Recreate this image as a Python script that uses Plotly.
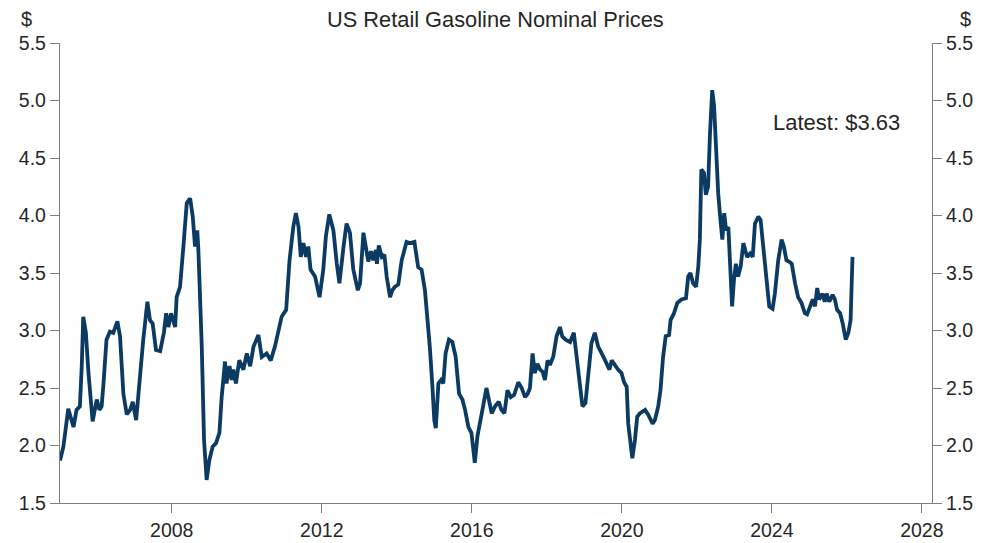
import plotly.graph_objects as go

# Fractional year of each observation and the retail gasoline price ($/gal)
years = [
    2005.02, 2005.11, 2005.24, 2005.38, 2005.46, 2005.55, 2005.60, 2005.64, 2005.71, 2005.78,
    2005.89, 2006.00, 2006.07, 2006.13, 2006.18, 2006.26, 2006.35, 2006.44, 2006.55, 2006.62,
    2006.71, 2006.80, 2006.89, 2006.96, 2007.05, 2007.14, 2007.24, 2007.35, 2007.42, 2007.49,
    2007.58, 2007.69, 2007.79, 2007.85, 2007.91, 2007.98, 2008.09, 2008.13, 2008.22, 2008.31,
    2008.40, 2008.49, 2008.56, 2008.62, 2008.68, 2008.71, 2008.80, 2008.86, 2008.93, 2009.00,
    2009.09, 2009.18, 2009.27, 2009.33, 2009.42, 2009.46, 2009.54, 2009.60, 2009.64, 2009.71,
    2009.80, 2009.91, 2010.00, 2010.09, 2010.18, 2010.31, 2010.40, 2010.53, 2010.64, 2010.75,
    2010.84, 2010.93, 2011.05, 2011.14, 2011.24, 2011.31, 2011.38, 2011.44, 2011.51, 2011.58,
    2011.64, 2011.70, 2011.82, 2011.94, 2012.04, 2012.11, 2012.20, 2012.31, 2012.40, 2012.47,
    2012.58, 2012.66, 2012.75, 2012.84,
    2012.96, 2013.02, 2013.11, 2013.17, 2013.24, 2013.31, 2013.37, 2013.44, 2013.47, 2013.52,
    2013.60, 2013.67, 2013.73, 2013.82, 2013.88, 2013.95, 2014.04, 2014.13, 2014.26, 2014.35,
    2014.47, 2014.57, 2014.66, 2014.75, 2014.82, 2014.88, 2014.95, 2015.00, 2015.04, 2015.11,
    2015.18, 2015.24, 2015.30, 2015.39, 2015.48, 2015.57, 2015.66, 2015.75, 2015.82, 2015.91,
    2015.99, 2016.08, 2016.15, 2016.22, 2016.30, 2016.39, 2016.46, 2016.53, 2016.62, 2016.72,
    2016.79, 2016.87, 2016.95, 2017.04, 2017.13, 2017.24, 2017.33, 2017.42, 2017.49, 2017.55,
    2017.62, 2017.68, 2017.75, 2017.82, 2017.89, 2017.95, 2018.02, 2018.08, 2018.17, 2018.26,
    2018.35, 2018.41, 2018.50, 2018.62, 2018.72, 2018.79, 2018.88, 2018.95, 2019.03, 2019.11,
    2019.19, 2019.28, 2019.37,
    2019.51, 2019.59, 2019.67, 2019.73, 2019.82, 2019.90, 2019.99, 2020.06, 2020.13, 2020.17,
    2020.28, 2020.35, 2020.41, 2020.48, 2020.62, 2020.70, 2020.82, 2020.88, 2020.97, 2021.03,
    2021.10, 2021.17, 2021.26, 2021.30, 2021.39, 2021.48, 2021.59, 2021.71, 2021.77, 2021.83,
    2021.90, 2021.98, 2022.04, 2022.08, 2022.12, 2022.19, 2022.24, 2022.30, 2022.35, 2022.41,
    2022.46, 2022.51, 2022.57, 2022.63, 2022.68, 2022.73, 2022.78, 2022.84, 2022.88, 2022.94,
    2022.99, 2023.04, 2023.10, 2023.17, 2023.24, 2023.29, 2023.34, 2023.42, 2023.49, 2023.55,
    2023.64, 2023.70, 2023.77, 2023.86, 2023.93, 2024.02, 2024.08, 2024.17, 2024.26, 2024.32,
    2024.39, 2024.46, 2024.53, 2024.62, 2024.70, 2024.79, 2024.88, 2024.94, 2025.01, 2025.09,
    2025.15, 2025.21, 2025.26, 2025.35, 2025.41, 2025.46, 2025.53, 2025.62, 2025.68, 2025.74,
    2025.82, 2025.89, 2025.97, 2026.04, 2026.10, 2026.15,
]
prices = [
    1.87, 1.99, 2.32, 2.16, 2.31, 2.34, 2.69, 3.12, 2.98, 2.63,
    2.21, 2.40, 2.31, 2.34, 2.54, 2.92, 2.99, 2.98, 3.08, 2.95,
    2.45, 2.27, 2.31, 2.38, 2.22, 2.60, 2.92, 3.25, 3.09, 3.06,
    2.83, 2.82, 2.98, 3.15, 3.03, 3.15, 3.03, 3.29, 3.38, 3.73,
    4.11, 4.15, 3.99, 3.73, 3.87, 3.70, 2.86, 2.05, 1.70, 1.87,
    1.99, 2.02, 2.11, 2.42, 2.73, 2.54, 2.69, 2.57, 2.66, 2.54,
    2.74, 2.66, 2.80, 2.69, 2.86, 2.96, 2.77, 2.80, 2.74, 2.86,
    2.98, 3.12, 3.18, 3.61, 3.90, 4.02, 3.90, 3.64, 3.76, 3.64,
    3.73, 3.53, 3.47, 3.29, 3.53, 3.82, 4.01, 3.87, 3.58, 3.41,
    3.73, 3.93, 3.85, 3.53,
    3.35, 3.41, 3.85, 3.73, 3.60, 3.69, 3.61, 3.70, 3.58, 3.74,
    3.64, 3.66, 3.47, 3.29, 3.35, 3.38, 3.40, 3.61, 3.77, 3.76,
    3.77, 3.55, 3.53, 3.35, 3.09, 2.86, 2.51, 2.22, 2.15, 2.54,
    2.57, 2.54, 2.80, 2.92, 2.90, 2.77, 2.45, 2.40, 2.31, 2.16,
    2.11, 1.85, 2.08, 2.19, 2.34, 2.50, 2.40, 2.28, 2.34, 2.38,
    2.31, 2.28, 2.48, 2.42, 2.44, 2.55, 2.50, 2.42, 2.45, 2.50,
    2.80, 2.63, 2.71, 2.66, 2.64, 2.57, 2.74, 2.70, 2.77, 2.95,
    3.03, 2.95, 2.92, 2.90, 2.98, 2.77, 2.51, 2.34, 2.37, 2.63,
    2.89, 2.98, 2.86,
    2.77, 2.71, 2.66, 2.74, 2.69, 2.66, 2.63, 2.55, 2.51, 2.19,
    1.89, 2.05, 2.25, 2.28, 2.31, 2.27, 2.19, 2.22, 2.34, 2.48,
    2.77, 2.95, 2.96, 3.09, 3.15, 3.24, 3.27, 3.28, 3.47, 3.50,
    3.41, 3.38, 3.56, 3.79, 4.40, 4.37, 4.18, 4.25, 4.71, 5.09,
    4.95, 4.60, 4.19, 3.96, 3.79, 4.02, 3.87, 3.90, 3.56, 3.21,
    3.44, 3.58, 3.47, 3.56, 3.76, 3.70, 3.64, 3.67, 3.64, 3.93,
    3.99, 3.96, 3.73, 3.44, 3.21, 3.19, 3.32, 3.61, 3.79, 3.73,
    3.61, 3.60, 3.58, 3.41, 3.29, 3.24, 3.15, 3.14, 3.21, 3.27,
    3.21, 3.37, 3.27, 3.32, 3.25, 3.32, 3.25, 3.31, 3.27, 3.18,
    3.15, 3.06, 2.92, 2.98, 3.09, 3.64,
]

x_tick_vals = [2008, 2012, 2016, 2020, 2024, 2028]
x_tick_text = ["2008", "2012", "2016", "2020", "2024", "2028"]
y_tick_vals = [1.5, 2.0, 2.5, 3.0, 3.5, 4.0, 4.5, 5.0, 5.5]
y_tick_text = ["1.5", "2.0", "2.5", "3.0", "3.5", "4.0", "4.5", "5.0", "5.5"]

title_text = "US Retail Gasoline Nominal Prices"
latest_text = "Latest: $3.63"
unit_text = "$"

LINE = "#0b3a63"
AXIS = "#7f7f7f"
TXT = "#262626"
FONT = "Liberation Sans, Arial, sans-serif"
FS = 19.5

fig = go.Figure()
fig.add_trace(go.Scatter(x=years, y=prices, mode="lines",
                         line=dict(color=LINE, width=3.8), hoverinfo="skip",
                         showlegend=False))
fig.add_trace(go.Scatter(x=years, y=prices, mode="lines", yaxis="y2",
                         line=dict(color="rgba(0,0,0,0)", width=0), hoverinfo="skip",
                         showlegend=False))

axis_common = dict(showgrid=False, zeroline=False, showline=True, linecolor=AXIS,
                   linewidth=1.3, ticks="outside", ticklen=9, tickwidth=1.3,
                   automargin=False,
                   tickcolor=AXIS, tickfont=dict(family=FONT, size=FS, color=TXT))

fig.update_layout(
    width=990, height=543,
    margin=dict(l=60, r=58, t=43, b=40, pad=0),
    paper_bgcolor="white", plot_bgcolor="white",
    font=dict(family=FONT, size=FS, color=TXT),
    xaxis=dict(range=[2005.02, 2028.27], tickmode="array", tickvals=x_tick_vals,
               ticktext=x_tick_text, **axis_common),
    yaxis=dict(range=[1.5, 5.5], tickmode="array", tickvals=y_tick_vals,
               ticktext=y_tick_text, side="left", **axis_common),
    yaxis2=dict(range=[1.5, 5.5], tickmode="array", tickvals=y_tick_vals,
                ticktext=y_tick_text, side="right", overlaying="y", anchor="x",
                **axis_common),
    annotations=[
        dict(text=title_text, xref="paper", yref="paper", x=0.499, y=1.052,
             xanchor="center", yanchor="middle", showarrow=False,
             font=dict(family=FONT, size=21.8, color=TXT)),
        dict(text=unit_text, xref="paper", yref="paper", x=-0.038, y=1.052,
             xanchor="center", yanchor="middle", showarrow=False,
             font=dict(family=FONT, size=20, color=TXT)),
        dict(text=unit_text, xref="paper", yref="paper", x=1.038, y=1.052,
             xanchor="center", yanchor="middle", showarrow=False,
             font=dict(family=FONT, size=20, color=TXT)),
        dict(text=latest_text, xref="paper", yref="paper", x=0.890, y=0.828,
             xanchor="center", yanchor="middle", showarrow=False,
             font=dict(family=FONT, size=22, color=TXT)),
    ],
)

fig.write_html("out.html", config={"displayModeBar": False},
               post_script="document.body.style.margin='0';document.body.style.padding='0';")
